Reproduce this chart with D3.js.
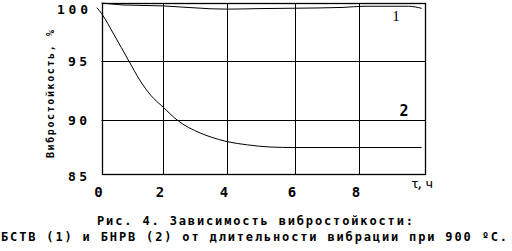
<!DOCTYPE html>
<html><head><meta charset="utf-8">
<script src="https://cdn.jsdelivr.net/npm/d3@7"></script>
<style>body{margin:0;background:#fff}svg{display:block}</style>
</head><body>
<svg id="c" width="512" height="251"></svg>
<script>
const xTicks = [0, 2, 4, 6, 8];
const yTicks = [85, 90, 95, 100];
const series1 = [[0,100],[0.2,99.95],[0.7,99.83],[2,99.75],[3.5,99.5],[4,99.47],[5,99.52],[6,99.55],[7.5,99.62],[8.15,99.72],[9.5,99.72],[9.9,99.54]];
const series2 = [[-0.15,99.6],[0,99.1],[0.4,97.3],[0.89,95],[1.24,93.4],[1.6,92.1],[2,91.1],[2.44,90],[3.16,88.8],[3.47,88.45],[4,88.0],[4.6,87.7],[5.26,87.5],[6,87.45],[8,87.45],[9.9,87.45]];
const seriesLabels = ["1", "2"];
const yLabel = "Вибростойкость, %";
const xLabel = "τ, ч";
const caption1 = "Рис. 4. Зависимость вибростойкости:";
const caption2 = "БСТВ (1) и БНРВ (2) от длительности вибрации при 900 ºС.";

const svg = d3.select("#c");
const x = d3.scaleLinear().domain([0,2,4,6,8,10]).range([101.5,163,227,295,359,425]);
const y = d3.scaleLinear().domain([85,90,95,100]).range([174,120,61,3]);
const font = "'DejaVu Sans Mono', monospace";

// grid
svg.append("g").selectAll("line").data(xTicks.slice(1)).join("line")
  .attr("x1", d => Math.round(x(d)) + 0.5).attr("x2", d => Math.round(x(d)) + 0.5)
  .attr("y1", y(100)).attr("y2", y(85)).attr("stroke", "#000").attr("stroke-width", 1);
svg.append("g").selectAll("line").data([90, 95]).join("line")
  .attr("y1", d => Math.round(y(d)) + 0.5).attr("y2", d => Math.round(y(d)) + 0.5)
  .attr("x1", x(0)).attr("x2", x(10)).attr("stroke", "#000").attr("stroke-width", 1);
// frame
svg.append("rect").attr("x", Math.round(x(0)) + 0.5).attr("y", Math.round(y(100)) + 0.5)
  .attr("width", Math.round(x(10)) - Math.round(x(0))).attr("height", Math.round(y(85)) - Math.round(y(100)))
  .attr("fill", "none").attr("stroke", "#000").attr("stroke-width", 1.3);

// curves
const line = d3.line().x(d => x(d[0])).y(d => y(d[1])).curve(d3.curveMonotoneX);
[series1, series2].forEach(s => {
  svg.append("path").datum(s).attr("d", line).attr("fill", "none").attr("stroke", "#000").attr("stroke-width", 1);
});

// series labels
svg.append("text").attr("x", 396).attr("y", 21).attr("text-anchor", "middle")
  .attr("font-family", "'Liberation Serif', serif").attr("font-size", 15).text(seriesLabels[0]);
svg.append("text").attr("x", 404).attr("y", 116).attr("text-anchor", "middle")
  .attr("font-family", font).attr("font-weight", "bold").attr("font-size", 15).text(seriesLabels[1]);

// y tick labels
svg.append("g").selectAll("text").data(yTicks).join("text")
  .attr("x", d => d === 100 ? 57 : 68)
  .attr("y", d => d === 100 ? 14 : d === 85 ? 181 : y(d) + 5)
  .attr("textLength", d => d === 100 ? 31 : 19).attr("lengthAdjust", "spacing")
  .attr("font-family", font).attr("font-weight", "bold").attr("font-size", 13)
  .text(d => d);

// x tick labels
svg.append("g").selectAll("text").data(xTicks).join("text")
  .attr("x", d => x(d) - 3).attr("y", 197).attr("text-anchor", "middle")
  .attr("font-family", font).attr("font-weight", "bold").attr("font-size", 14)
  .text(d => d);

// x axis label
svg.append("text").attr("x", 411).attr("y", 188).attr("textLength", 22).attr("lengthAdjust", "spacing")
  .attr("font-family", font).attr("font-size", 13).text(xLabel);

// y axis label
svg.append("text").attr("transform", "translate(54,94) rotate(-90)").attr("text-anchor", "middle")
  .attr("x", 0).attr("y", 0).attr("textLength", 128).attr("lengthAdjust", "spacing")
  .attr("font-family", font).attr("font-weight", "bold").attr("font-size", 10).text(yLabel);

// caption
svg.append("text").attr("x", 97).attr("y", 225).attr("textLength", 316).attr("lengthAdjust", "spacing")
  .attr("font-family", font).attr("font-weight", "bold").attr("font-size", 12).text(caption1);
svg.append("text").attr("x", 1).attr("y", 241).attr("textLength", 506).attr("lengthAdjust", "spacing")
  .attr("font-family", font).attr("font-weight", "bold").attr("font-size", 12).text(caption2);
</script>
</body></html>
